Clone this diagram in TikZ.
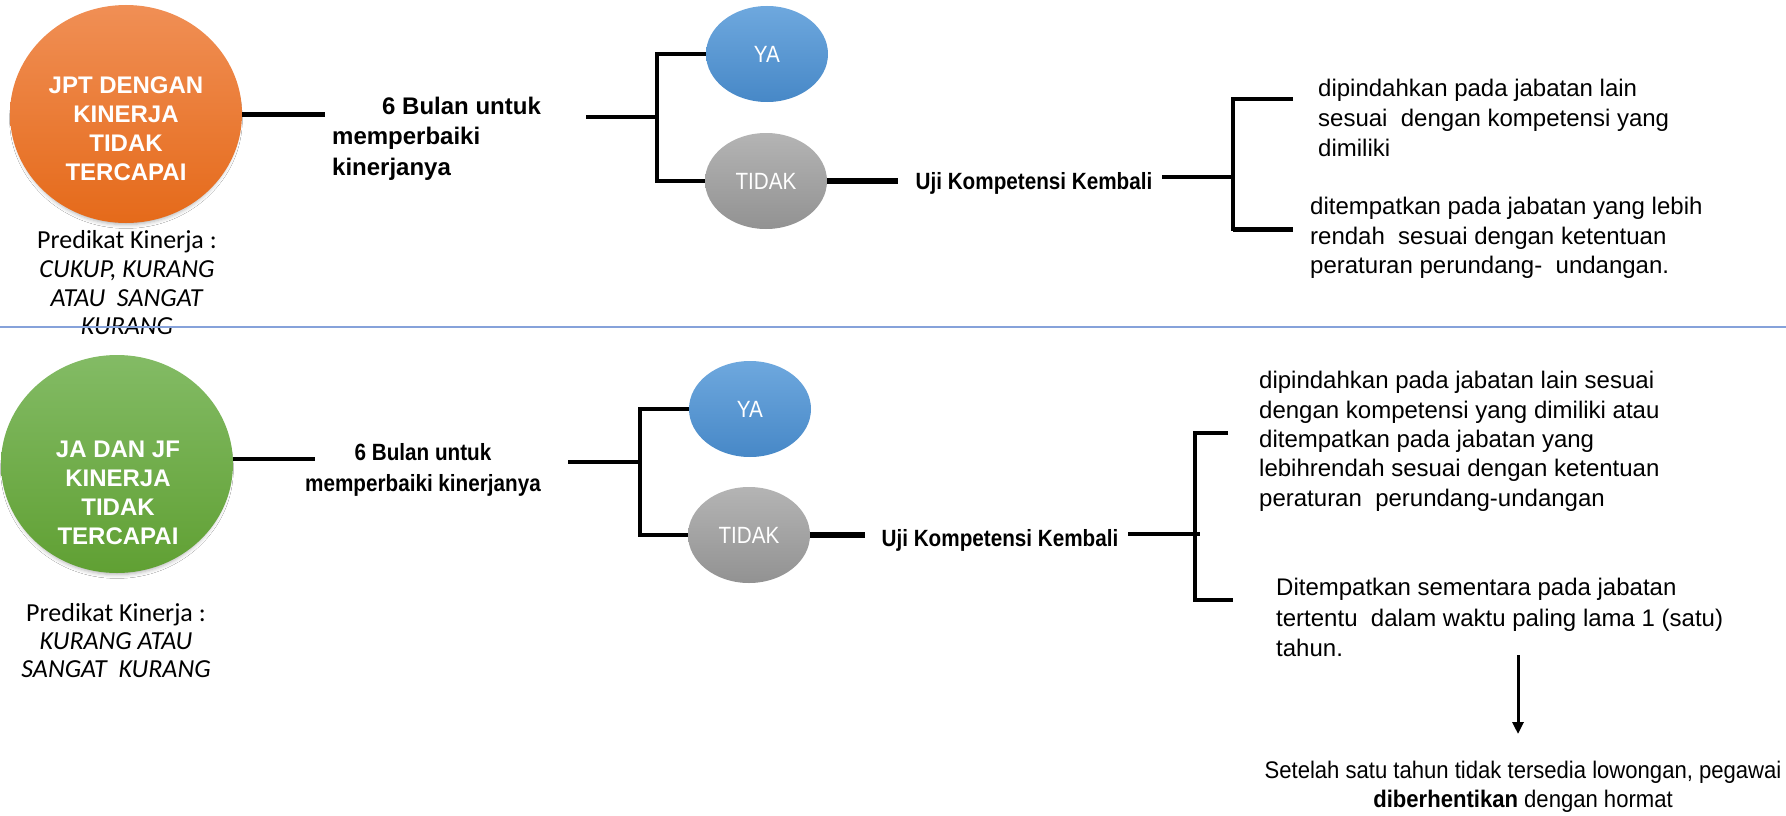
\documentclass[tikz,border=0pt]{standalone}
\usepackage{fontspec}
\setmainfont{Liberation Sans}
\newfontfamily\narrowsf[FakeStretch=0.88]{Liberation Sans}
\newfontfamily\semisf[FakeStretch=0.92]{Liberation Sans}
\newfontfamily\predfont{Carlito}
\usetikzlibrary{shapes.geometric,arrows.meta,shadows.blur}

\definecolor{orangeTop}{HTML}{F08F55}
\definecolor{orangeBot}{HTML}{E56A1A}
\definecolor{greenTop}{HTML}{83BB65}
\definecolor{greenBot}{HTML}{60A033}
\definecolor{blueTop}{HTML}{6EA8DE}
\definecolor{blueBot}{HTML}{4788C7}
\definecolor{grayTop}{HTML}{B4B4B4}
\definecolor{grayBot}{HTML}{929292}
\definecolor{sepblue}{HTML}{86A2DA}

\begin{document}
\begin{tikzpicture}[x=1pt,y=-1pt,
  bigdisc/.style={ellipse, minimum width=232pt, minimum height=218pt, inner sep=0pt,
    blur shadow={shadow xshift=0pt, shadow yshift=-5pt, shadow scale=0.97,
      shadow blur radius=4pt, shadow opacity=30}},
  disctext/.style={anchor=north, align=center, text=white, inner sep=0pt,
    font=\bfseries\fontsize{24}{29}\selectfont},
  pred/.style={anchor=north, align=center, inner sep=0pt},
  choice/.style={ellipse, minimum width=122pt, minimum height=96pt, inner sep=0pt,
    text=white, font=\narrowsf\fontsize{23.5}{23.5}\selectfont},
  yesnode/.style={choice, top color=blueTop, bottom color=blueBot},
  nonode/.style={choice, top color=grayTop, bottom color=grayBot},
  lbl/.style={inner sep=0pt, align=left, font=\bfseries\fontsize{24}{30.5}\selectfont},
  nlbl/.style={inner sep=0pt, align=center, font=\narrowsf\bfseries\fontsize{23.5}{31}\selectfont},
  ujilbl/.style={inner sep=0pt, anchor=base, font=\narrowsf\bfseries\fontsize{23.5}{28}\selectfont},
  body/.style={inner sep=0pt, align=left, anchor=north west},
  conn/.style={draw=black, line cap=butt}
]
\fill[white] (0,0) rectangle (1786,816);
\useasboundingbox (0,0) rectangle (1786,816);

% ---------- upper flow: JPT ----------
\node[bigdisc, top color=orangeTop, bottom color=orangeBot] (c1) at (126,114) {};
\node[disctext] (c1t) at (126,76.5) {JPT DENGAN\\KINERJA\\TIDAK\\TERCAPAI};
\node[pred, font=\predfont\fontsize{26}{28.7}\selectfont] (p1) at (127,230.6)
  {Predikat Kinerja :\\\textit{CUKUP, KURANG}\\\textit{ATAU~~SANGAT}\\\textit{KURANG}};

\coordinate (e1) at (325,114);
\draw[conn, line width=5pt] (c1.east) -- (e1);
\node[lbl, anchor=north west] (m1) at (332,96.5)
  {\hspace*{50pt}6 Bulan untuk\\memperbaiki\\kinerjanya};

\node[yesnode] (ya1) at (767,54) {YA};
\node[nonode] (td1) at (766,181) {TIDAK};
\coordinate (b1s) at (586,117);
\coordinate (b1j) at (657,117);
\draw[conn, line width=4pt] (b1s) -- (b1j);
\draw[conn, line width=3.5pt] (ya1.west) -| (b1j) |- (td1.west);

\coordinate (u1a) at (898,181);
\draw[conn, line width=6pt] (td1.east) -- (u1a);
\node[ujilbl] (uji1) at (1034,189.4) {Uji Kompetensi Kembali};

\coordinate (u1b) at (1162,177);
\coordinate (b2j) at (1233,177);
\coordinate (a1) at (1293,99);
\coordinate (a2) at (1293,229);
\draw[conn, line width=4pt] (u1b) -- (b2j);
\draw[conn, line width=3.5pt] (a1) -| (b2j) |- (a2);
\draw[conn, line width=5pt] (b2j |- a2) -- (a2);

\node[body, font=\fontsize{24}{30}\selectfont] (t1) at (1318,79.4)
  {dipindahkan pada jabatan lain\\sesuai~ dengan kompetensi yang\\dimiliki};
\node[body, font=\fontsize{24}{29.5}\selectfont] (t2) at (1310,197.4)
  {ditempatkan pada jabatan yang lebih\\rendah~ sesuai dengan ketentuan\\peraturan perundang-~ undangan.};

% separator between the two flows
\draw[sepblue, line width=2pt] (0,327) -- (1786,327);

% ---------- lower flow: JA and JF ----------
\node[bigdisc, top color=greenTop, bottom color=greenBot] (c2) at (117,464) {};
\node[disctext] (c2t) at (118,440.5) {JA DAN JF\\KINERJA\\TIDAK\\TERCAPAI};
\node[pred, font=\predfont\fontsize{26}{28}\selectfont] (p2) at (116,603.6)
  {Predikat Kinerja :\\\textit{KURANG ATAU}\\\textit{SANGAT~~KURANG}};

\coordinate (e2) at (315,459);
\draw[conn, line width=4pt] (c2.east |- e2) -- (e2);
\node[nlbl, anchor=north] (m2) at (423,443.6) {6 Bulan untuk\\memperbaiki kinerjanya};

\node[yesnode] (ya2) at (750,409) {YA};
\node[nonode] (td2) at (749,535) {TIDAK};
\coordinate (b3s) at (568,462);
\coordinate (b3j) at (640,462);
\draw[conn, line width=4pt] (b3s) -- (b3j);
\draw[conn, line width=3.5pt] (ya2.west) -| (b3j) |- (td2.west);

\coordinate (u2a) at (865,535);
\draw[conn, line width=6pt] (td2.east) -- (u2a);
\node[ujilbl] (uji2) at (1000,546.4) {Uji Kompetensi Kembali};

\coordinate (u2b) at (1128,534);
\coordinate (u2e) at (1200,534);
\coordinate (b4j) at (1195,534);
\coordinate (a3) at (1228,433);
\coordinate (a4) at (1233,600);
\draw[conn, line width=4pt] (u2b) -- (u2e);
\draw[conn, line width=3.5pt] (a3) -| (b4j) |- (a4);
\draw[conn, line width=4.5pt] ([xshift=2pt]b4j |- a4) -- (a4);

\node[body, font=\fontsize{24}{29.3}\selectfont] (t3) at (1259,371.4)
  {dipindahkan pada jabatan lain sesuai\\dengan kompetensi yang dimiliki atau\\ditempatkan pada jabatan yang\\lebihrendah sesuai dengan ketentuan\\peraturan~ perundang-undangan};
\node[body, font=\fontsize{24}{30.5}\selectfont] (t4) at (1276,578.4)
  {Ditempatkan sementara pada jabatan\\tertentu~ dalam waktu paling lama 1 (satu)\\tahun.};

\coordinate (arA) at (1518,655);
\coordinate (arB) at (1518,734);
\draw[conn, line width=3pt, -{Triangle[width=11pt,length=12pt]}] (arA) -- (arB);

\node[inner sep=0pt, anchor=north, align=center, font=\semisf\fontsize{24}{29}\selectfont] (t5) at (1523,761.4)
  {Setelah satu tahun tidak tersedia lowongan, pegawai\\\textbf{diberhentikan} dengan hormat};
\end{tikzpicture}
\end{document}
